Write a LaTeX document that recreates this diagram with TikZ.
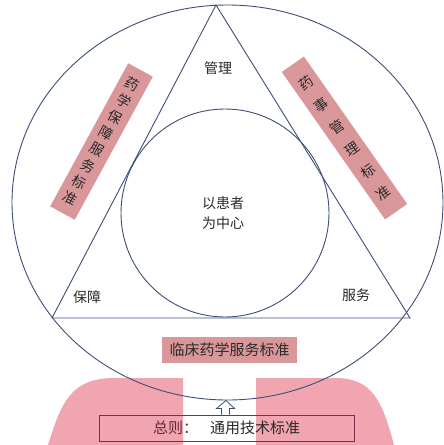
\documentclass[tikz,border=0pt]{standalone}
\usepackage{fontspec}
\newfontfamily\cjk{Noto Sans CJK SC}
\usetikzlibrary{shapes.geometric,calc}
\definecolor{lineblue}{HTML}{3C4E78}
\definecolor{rosebox}{HTML}{D9979A}
\definecolor{pinkbg}{HTML}{F0A5B1}
\definecolor{maroon}{HTML}{7A3048}
\definecolor{txt}{HTML}{2A2A2A}
\tikzset{
  lbl/.style={font=\cjk\fontsize{14}{20}\selectfont, text=txt, align=center, inner sep=0pt},
  stdbox/.style={fill=rosebox, inner sep=0pt, align=center, text=txt},
  ring/.style={draw=lineblue, line width=0.9pt},
}
\begin{document}
\begin{tikzpicture}[x=1pt,y=-1pt]
\useasboundingbox (0,0) rectangle (444,445);
% pink background shapes
\fill[pinkbg] (48,445) .. controls (62,400) and (72,378) .. (115,378) -- (183,378) -- (183,445) -- cycle;
\fill[pinkbg] (256,378) -- (335,378) .. controls (372,378) and (382,400) .. (394,445) -- (256,445) -- cycle;
% outer ellipse
\node (outer) [ring, ellipse, inner sep=0pt, minimum width=431pt, minimum height=395pt] at (227.5,202.5) {};
% triangle
\coordinate (A) at (216,5);
\coordinate (B) at (52,318);
\coordinate (C) at (410,318);
\draw[ring, line join=miter] (A) -- (B) -- (C) -- cycle;
% inner circle
\node (inner) [ring, circle, inner sep=0pt, minimum size=208pt] at (225,213) {};
\node (center) [lbl] at (223,213) {以患者\\为中心};
% corner labels
\node (mgmt) [lbl] at (218,68) {管理};
\node (guar) [lbl] at (87,297) {保障};
\node (serv) [lbl] at (356,295) {服务};
% rotated standard boxes
\node (leftbox) [stdbox, minimum width=28pt, minimum height=163pt, rotate=-28.6,
  font=\cjk\fontsize{14}{18.6}\selectfont] at (101.5,141.5)
  {药\\学\\保\\障\\服\\务\\标\\准};
\node (rightbox) [stdbox, minimum width=27pt, minimum height=180pt, rotate=35,
  font=\cjk\fontsize{14}{27}\selectfont] at (344.5,138)
  {药\\事\\管\\理\\标\\准};
% bottom clinical box
\node (clin) [stdbox, minimum width=135pt, minimum height=26pt,
  font=\cjk\fontsize{15}{18}\selectfont] at (229.5,350) {临床药学服务标准};
% general box
\node (gen) [draw=maroon, line width=1pt, minimum width=255pt, minimum height=26pt, inner sep=0pt,
  font=\cjk\fontsize{15}{18}\selectfont, text=txt] at (226.5,428)
  {\textcolor{maroon!80!black}{总则：}\hspace{12pt}通用技术标准};
% hollow arrow from general box to outer ellipse
\draw[draw=lineblue, fill=white, line width=0.8pt, line join=miter]
  ([xshift=-5pt]gen.north) -- ([xshift=-5pt,yshift=6pt]gen.north)
  -- ([xshift=-10pt,yshift=6pt]gen.north) -- ([xshift=-1.5pt]outer.south)
  -- ([xshift=8pt,yshift=6pt]gen.north) -- ([xshift=3pt,yshift=6pt]gen.north)
  -- ([xshift=3pt]gen.north);
\end{tikzpicture}
\end{document}
